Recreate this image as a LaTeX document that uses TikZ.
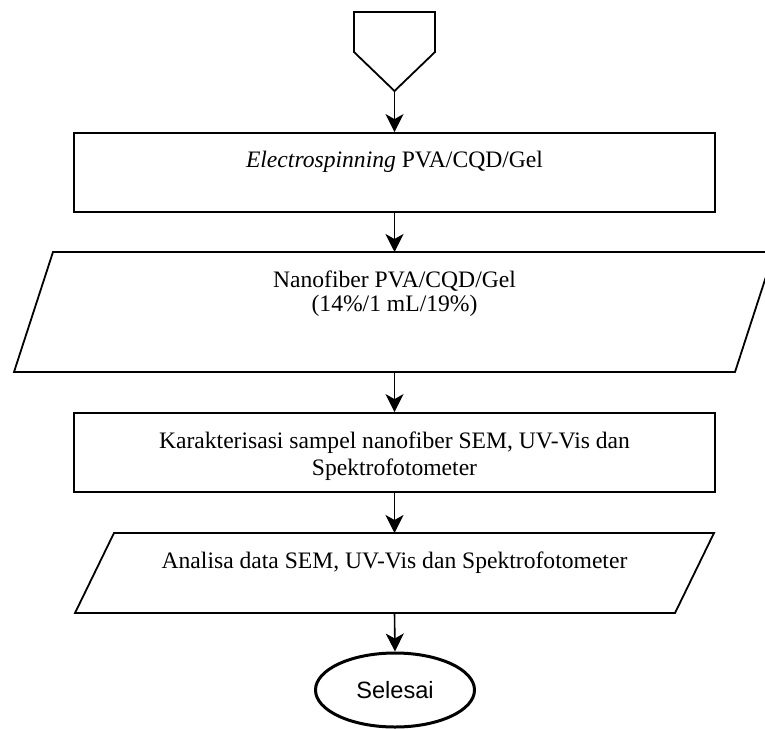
\documentclass[tikz,border=0pt]{standalone}
\usepackage{fontspec}
\setmainfont{Liberation Serif}
\newfontfamily\arialfont{Liberation Sans}
\usetikzlibrary{arrows.meta,shapes.geometric}
\begin{document}
\begin{tikzpicture}[x=1pt,y=-1pt,
  shapeline/.style={draw=black,line width=1.8pt,line join=miter},
  boxnode/.style={shapeline,rectangle,minimum width=641pt,minimum height=79pt,inner sep=0pt},
  txt/.style={font=\fontsize{23.6}{28}\selectfont,inner sep=0pt,anchor=base,text=black},
  arr/.style={-{Stealth[length=18pt,width=18pt,inset=5pt]},line width=1.6pt},
]
\useasboundingbox (0,0) rectangle (765,728);
% off-page connector
\draw[shapeline] (354,12) -- (435,12) -- (435,52) -- (394.5,91) -- (354,52) -- cycle;
\coordinate (start) at (394.5,91);
% box 1
\node[boxnode] (b1) at (394.5,172.5) {};
\node[txt] (t1) at (394.5,167) {\textit{Electrospinning} PVA/CQD/Gel};
% parallelogram 1
\draw[shapeline] (14,372) -- (53,252) -- (774,252) -- (735,372) -- cycle;
\coordinate (p1n) at (394.5,252);
\coordinate (p1s) at (394.5,372);
\node[txt] (t2a) at (394.5,287) {Nanofiber PVA/CQD/Gel};
\node[txt] (t2b) at (394.5,311) {(14\%/1 mL/19\%)};
% box 2
\node[boxnode] (b2) at (394.5,452.5) {};
\node[txt] (t3a) at (394.5,448) {Karakterisasi sampel nanofiber SEM, UV-Vis dan};
\node[txt] (t3b) at (394.5,475) {Spektrofotometer};
% parallelogram 2
\draw[shapeline] (75,613) -- (114,533) -- (714,533) -- (675,613) -- cycle;
\coordinate (p2n) at (394.5,533);
\coordinate (p2s) at (394.5,613);
\node[txt] (t4) at (394.5,568) {Analisa data SEM, UV-Vis dan Spektrofotometer};
% terminator
\node[draw=black,ellipse,line width=3pt,minimum width=159pt,minimum height=74pt,inner sep=0pt,
      font=\arialfont\fontsize{23.6}{28}\selectfont] (end) at (395,690) {Selesai};
% connectors
\draw[arr] (start) -- (b1.north);
\draw[arr] (b1.south) -- (p1n);
\draw[arr] (p1s) -- (b2.north);
\draw[arr] (b2.south) -- (p2n);
\draw[arr] (p2s) -- (end.north);
\end{tikzpicture}
\end{document}
